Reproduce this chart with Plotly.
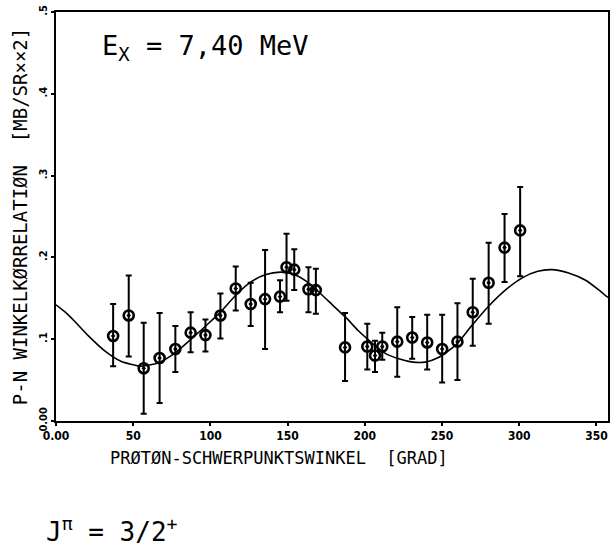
import plotly.graph_objects as go

# Measured data (angle in degrees, correlation in mb/sr^2)
angles = [37.0, 47.1, 56.8, 67.1, 77.3, 87.2, 96.8, 106.5, 116.4, 126.1, 135.4, 145.1,
          149.3, 154.3, 163.5, 168.3, 187.2, 201.6, 206.6, 211.3, 221.0, 230.7, 240.4,
          250.1, 260.0, 269.9, 280.2, 290.5, 300.6]
values = [0.104, 0.129, 0.0645, 0.077, 0.088, 0.108, 0.105, 0.129, 0.162, 0.143, 0.149, 0.152,
          0.188, 0.185, 0.161, 0.160, 0.090, 0.091, 0.080, 0.091, 0.097, 0.102, 0.096,
          0.088, 0.097, 0.133, 0.169, 0.212, 0.233]
upper = [0.143, 0.178, 0.120, 0.132, 0.116, 0.133, 0.124, 0.156, 0.189, 0.169, 0.209, 0.172,
         0.229, 0.210, 0.188, 0.186, 0.132, 0.119, 0.098, 0.108, 0.139, 0.127, 0.130,
         0.130, 0.144, 0.174, 0.218, 0.253, 0.286]
lower = [0.067, 0.079, 0.009, 0.022, 0.060, 0.084, 0.085, 0.101, 0.135, 0.116, 0.088, 0.133,
         0.147, 0.160, 0.133, 0.131, 0.049, 0.063, 0.060, 0.075, 0.054, 0.076, 0.063,
         0.047, 0.050, 0.092, 0.119, 0.170, 0.177]

# Fitted curve
curve_x = [0, 6, 12, 21, 32, 42, 55, 66, 77, 88, 98, 107, 117, 127, 136, 145, 153, 162, 170,
           179, 188, 196, 205, 213, 222, 231, 239, 248, 259, 269, 280, 291, 302, 312, 321,
           332, 343, 353, 357.5]
curve_y = [0.142, 0.133, 0.122, 0.104, 0.085, 0.073, 0.067, 0.071, 0.083, 0.101, 0.118, 0.134,
           0.155, 0.171, 0.179, 0.182, 0.180, 0.171, 0.158, 0.142, 0.126, 0.110, 0.095, 0.083,
           0.076, 0.072, 0.072, 0.078, 0.093, 0.116, 0.140, 0.160, 0.175, 0.183, 0.185, 0.181,
           0.172, 0.158, 0.151]

x_tickvals = [0, 50, 100, 150, 200, 250, 300, 350]
x_ticktext = ["0.00", "50", "100", "150", "200", "250", "300", "350"]
y_tickvals = [0, 0.1, 0.2, 0.3, 0.4, 0.5]
y_ticktext = ["0.00", ".1", ".2", ".3", ".4", ".5"]

err_plus = [u - v for u, v in zip(upper, values)]
err_minus = [v - l for v, l in zip(values, lower)]

TICKFONT = "DejaVu Sans Condensed, DejaVu Sans, sans-serif"
MONO = "DejaVu Sans Mono, Liberation Mono, monospace"

fig = go.Figure()
fig.add_trace(go.Scatter(
    x=curve_x, y=curve_y, mode="lines",
    line=dict(color="black", width=1.6, shape="spline", smoothing=0.6),
    hoverinfo="skip", showlegend=False))
fig.add_trace(go.Scatter(
    x=angles, y=values, mode="markers",
    marker=dict(symbol="circle-open-dot", size=10, color="black",
                line=dict(color="black", width=2.6)),
    error_y=dict(type="data", symmetric=False, array=err_plus, arrayminus=err_minus,
                 color="black", thickness=2, width=3),
    showlegend=False))

L, R, T, B = 56, 2, 12, 130
plot_w = 612 - L - R
plot_h = 551 - T - B

fig.update_layout(
    width=612, height=551,
    margin=dict(l=L, r=R, t=T, b=B),
    paper_bgcolor="white", plot_bgcolor="white",
    font=dict(family=MONO, color="black"),
    xaxis=dict(range=[0, 357.5], tickvals=x_tickvals, ticktext=x_ticktext,
               showgrid=False, zeroline=False, showline=True, linecolor="black", linewidth=2,
               mirror=True, ticks="outside", ticklen=3, tickwidth=1.5, tickcolor="black",
               tickfont=dict(size=12, family=TICKFONT, weight="bold")),
    yaxis=dict(range=[0, 0.5], tickvals=y_tickvals, ticktext=y_ticktext, tickangle=-90,
               showgrid=False, zeroline=False, showline=True, linecolor="black", linewidth=2,
               mirror=True, ticks="outside", ticklen=3, tickwidth=1.5, tickcolor="black",
               tickfont=dict(size=11, family=TICKFONT, weight="bold"),
               title=dict(text="P-N WINKELKØRRELATIØN  [MB/SR××2]", font=dict(size=19, family=MONO),
                          standoff=4)),
    annotations=[
        dict(text="PRØTØN-SCHWERPUNKTSWINKEL  [GRAD]", x=(280 - L) / plot_w, y=(421 - 458) / plot_h,
             xref="paper", yref="paper", xanchor="center", yanchor="middle", showarrow=False,
             font=dict(size=17, family=MONO)),
        dict(text="E<sub>X</sub> = 7,40 MeV", x=(100 - L) / plot_w, y=(421 - 47) / plot_h,
             xref="paper", yref="paper", xanchor="left", yanchor="middle", showarrow=False,
             font=dict(size=27, family=MONO)),
        dict(text="J<sup>π</sup> = 3/2<sup>+</sup>", x=(44 - L) / plot_w, y=(421 - 530) / plot_h,
             xref="paper", yref="paper", xanchor="left", yanchor="middle", showarrow=False,
             font=dict(size=26, family=MONO)),
    ],
)

fig.write_html("out.html", config={"displayModeBar": False},
               post_script="document.body.style.margin='0px';")
